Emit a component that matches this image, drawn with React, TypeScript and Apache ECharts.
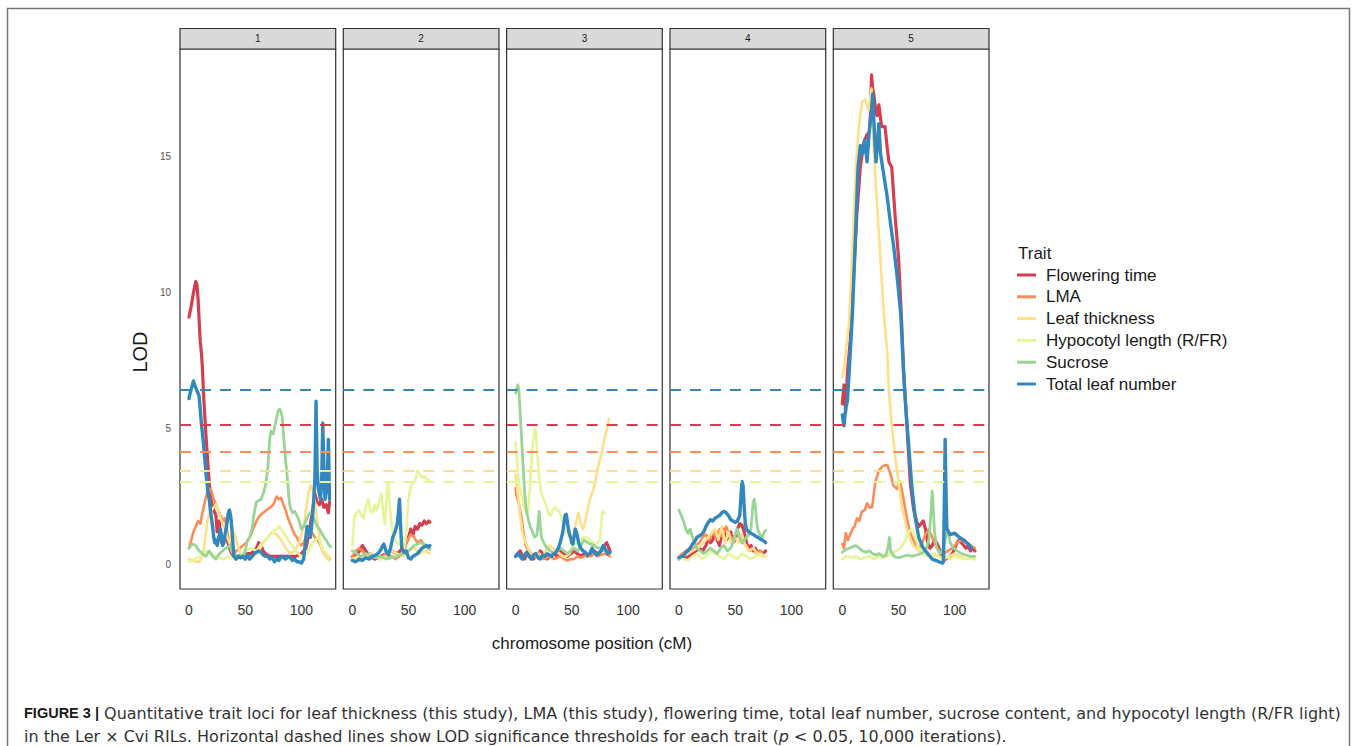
import React, { useEffect, useRef } from 'react';
import * as echarts from 'echarts';

const FONT = 'Liberation Sans, Arial, Helvetica, sans-serif';
const CAPTION_FONT = 'DejaVu Sans, Verdana, sans-serif';

const chromosomes = ['1', '2', '3', '4', '5'];
const traits = ['Flowering time', 'LMA', 'Leaf thickness', 'Hypocotyl length (R/FR)', 'Sucrose', 'Total leaf number'];
const traitColors = ['#D53E4F', '#FC8D59', '#FEE08B', '#E6F598', '#99D594', '#3288BD'];
const thresholds: (number | null)[] = [5.13, 4.14, 3.46, 3.06, null, 6.41];
const xTicks = [0, 50, 100];
const yTicks = [0, 5, 10, 15];

// [cM, LOD] per chromosome 1..5
const floweringTime: number[][][] = [
  [[0,9.1],[2,9.5],[4,10.0],[6,10.4],[7,10.3],[8,9.8],[9,9.0],[10,8.2],[11,7.8],[12,7.2],[13,6.2],[14,5.5],[15,4.8],[16,4.2],[17,3.6],[18,3.0],[19,2.6],[20,2.3],[22,2.0],[24,1.8],[25,1.2],[26,1.5],[27,1.6],[28,1.0],[29,0.8],[30,0.9],[32,1.0],[34,0.9],[36,0.6],[38,0.4],[40,0.3],[42,0.3],[45,0.3],[48,0.3],[50,0.3],[52,0.4],[55,0.4],[58,0.5],[60,0.6],[62,0.8],[64,0.7],[66,0.5],[68,0.4],[72,0.3],[76,0.3],[80,0.3],[85,0.3],[90,0.3],[95,0.3],[100,0.4],[104,0.6],[106,1.0],[108,1.5],[110,2.0],[112,2.6],[114,2.3],[116,2.2],[118,2.4],[120,2.1],[122,2.2],[124,1.9],[125,2.3]],
  [[0,0.3],[5,0.4],[9,0.7],[12,0.5],[16,0.3],[20,0.2],[25,0.3],[30,0.4],[35,0.5],[40,0.4],[45,0.6],[48,0.8],[50,1.0],[52,1.3],[54,1.1],[56,1.4],[58,1.3],[60,1.5],[62,1.45],[64,1.6],[66,1.5],[68,1.6],[69,1.55]],
  [[0,0.3],[2,0.4],[4,0.5],[6,0.3],[8,0.2],[10,0.4],[12,0.5],[14,0.3],[16,0.2],[18,0.4],[20,0.3],[22,0.5],[24,0.4],[26,0.3],[28,0.2],[31,0.3],[34,0.4],[37,0.3],[40,0.5],[43,0.4],[46,0.3],[49,0.4],[52,0.5],[55,0.4],[58,0.3],[61,0.4],[64,0.3],[67,0.4],[70,0.5],[73,0.4],[76,0.5],[79,0.7],[81,0.8],[83,0.6],[84,0.5]],
  [[0,0.2],[3,0.3],[6,0.25],[9,0.3],[12,0.4],[15,0.5],[18,0.6],[21,0.5],[24,0.7],[26,1.0],[28,0.8],[30,0.9],[32,1.2],[34,0.9],[36,0.7],[38,1.1],[40,1.3],[42,0.9],[44,1.0],[46,1.2],[48,0.8],[50,0.9],[52,1.3],[54,1.5],[56,1.45],[58,1.2],[60,0.8],[62,0.6],[64,0.7],[66,0.5],[68,0.6],[70,0.4],[72,0.5],[74,0.4],[76,0.45],[77,0.5]],
  [[0,5.9],[1.5,6.6],[3,5.6],[4.5,7.0],[7,8.2],[10,10.5],[13,12.9],[16,14.6],[19,15.5],[22,15.8],[24,15.9],[25,16.5],[26,18.0],[27,17.5],[28,17.3],[30,16.6],[31,16.5],[32.5,16.9],[35,16.1],[38,16.1],[40,15.3],[41.5,14.8],[44,14.6],[47,12.8],[50,11.3],[52.5,9.2],[54.5,7.1],[57.5,5.1],[60.5,3.0],[63.5,2.0],[66,1.6],[68,1.4],[70,1.5],[72,1.6],[74,1.3],[76,0.8],[78,0.6],[80,0.7],[82,0.9],[84,0.8],[86,0.6],[88,0.3],[90,0.2],[92,0.2],[94,0.25],[96,0.3],[98,0.4],[100,0.6],[102,0.8],[104,0.9],[106,0.8],[108,0.7],[110,0.6],[112,0.7],[114,0.5],[116,0.6],[118,0.5]],
];

const lma: number[][][] = [
  [[0,0.6],[2,0.9],[4,1.2],[6,1.4],[8,1.6],[10,1.5],[12,1.9],[14,2.3],[16,2.6],[18,2.8],[20,2.7],[22,2.4],[24,2.2],[26,2.0],[28,1.8],[30,1.6],[32,1.7],[34,1.2],[36,0.8],[38,0.5],[40,0.4],[42,0.5],[45,0.6],[48,0.7],[51,0.8],[54,1.0],[57,1.3],[60,1.6],[63,1.8],[66,1.9],[69,2.0],[72,2.1],[75,2.2],[78,2.5],[80,2.4],[82,2.45],[84,2.2],[86,2.0],[88,1.7],[90,1.5],[92,1.3],[94,1.1],[96,1.0],[98,0.8],[100,0.7],[102,0.8],[104,1.0],[106,1.1],[108,1.2],[110,1.15],[112,1.0],[114,0.9],[116,0.8],[118,0.6],[120,0.4],[122,0.3],[124,0.2],[125,0.2]],
  [[0,0.3],[3,0.5],[6,0.6],[9,0.5],[12,0.3],[16,0.4],[20,0.3],[25,0.2],[30,0.4],[35,0.3],[38,0.2],[42,0.3],[46,0.5],[49,0.9],[52,1.1],[55,1.0],[58,0.8],[61,0.9],[64,0.7],[67,0.6],[69,0.6]],
  [[0,2.8],[1,2.5],[3,2.2],[5,1.8],[7,1.2],[9,0.7],[11,0.5],[13,0.4],[16,0.3],[19,0.35],[22,0.3],[25,0.2],[28,0.25],[31,0.3],[34,0.2],[37,0.25],[40,0.3],[43,0.2],[46,0.15],[49,0.2],[52,0.2],[55,0.3],[58,0.25],[61,0.3],[64,0.35],[67,0.3],[70,0.4],[73,0.3],[76,0.35],[79,0.4],[82,0.35],[84,0.3]],
  [[0,0.3],[3,0.4],[6,0.5],[9,0.6],[12,0.5],[15,0.7],[18,0.8],[21,1.0],[24,1.1],[27,0.9],[30,1.2],[33,1.0],[36,1.3],[39,1.0],[42,1.4],[45,1.1],[48,0.9],[51,1.2],[54,1.0],[57,0.8],[60,0.7],[63,0.5],[66,0.6],[69,0.4],[72,0.5],[75,0.35],[77,0.3]],
  [[0,0.75],[1.5,0.6],[3,1.15],[5,0.9],[7,1.1],[9,1.3],[11,1.4],[13,1.7],[15,1.6],[17.5,1.95],[20,2.0],[22,2.25],[24,2.1],[26.5,2.1],[28,2.6],[29.5,3.05],[32.5,3.45],[35.5,3.6],[38,3.65],[40,3.66],[43,3.3],[45.5,2.9],[48.5,2.78],[51.5,3.05],[54.5,2.4],[57.5,1.7],[60.5,1.15],[65,0.75],[68,0.6],[71,0.8],[74,1.1],[77,1.3],[80,1.0],[83,0.7],[86,0.5],[90,0.4],[94,0.5],[98,0.6],[102,0.8],[106,0.9],[110,0.8],[113,0.75],[116,0.65],[118,0.6]],
];

const leafThickness: number[][][] = [
  [[0,0.2],[3,0.15],[6,0.1],[9,0.1],[12,0.3],[14,0.8],[16,1.5],[18,1.9],[20,2.0],[22,2.1],[24,2.2],[26,2.0],[28,1.7],[30,1.5],[32,1.3],[34,1.0],[36,0.8],[38,1.1],[40,1.2],[42,0.9],[44,0.6],[46,0.4],[48,0.3],[50,0.2],[54,0.2],[58,0.3],[62,0.5],[66,0.8],[70,1.0],[74,1.2],[78,1.1],[82,0.9],[86,0.6],[90,0.4],[94,0.5],[98,0.8],[102,1.4],[104,2.0],[106,2.6],[108,2.9],[110,2.7],[112,2.3],[114,1.6],[116,1.0],[118,0.6],[120,0.4],[122,0.3],[124,0.2],[125,0.15]],
  [[0,0.2],[5,0.3],[10,0.2],[15,0.4],[20,0.3],[25,0.2],[30,0.3],[35,0.5],[40,0.4],[45,0.3],[50,0.5],[55,0.6],[60,0.4],[65,0.5],[69,0.4]],
  [[0,3.3],[2,2.6],[4,1.8],[6,1.2],[8,0.9],[10,0.7],[12,0.5],[15,0.4],[18,0.3],[21,0.4],[24,0.3],[27,0.5],[30,0.7],[33,0.6],[36,0.5],[39,0.4],[42,0.3],[45,0.3],[48,0.4],[50,0.6],[52,1.2],[54,1.6],[56,1.9],[58,1.5],[60,1.3],[62,1.6],[64,2.0],[66,2.4],[68,2.6],[70,2.9],[72,3.3],[74,3.7],[76,4.0],[78,4.4],[80,4.8],[82,5.1],[83,5.35]],
  [[0,0.2],[4,0.3],[8,0.4],[12,0.5],[16,0.6],[20,0.7],[24,0.9],[28,1.1],[32,1.3],[35,0.9],[38,1.4],[41,0.8],[44,1.2],[47,0.7],[50,1.0],[53,0.8],[56,1.1],[59,0.7],[62,0.5],[66,0.6],[70,0.4],[74,0.3],[77,0.3]],
  [[0,6.9],[1.5,7.2],[3,7.8],[6,8.9],[9,11.6],[12,14.6],[15,16.2],[17.5,17.0],[20.5,17.1],[23.5,16.7],[26,17.5],[28,15.2],[31,13.2],[34,11.2],[37,9.2],[40,7.8],[41.5,6.4],[44,5.1],[47,4.0],[50,3.05],[53,2.1],[57.5,1.3],[62,0.75],[68,0.5],[74,0.35],[78,0.3],[82,0.4],[86,0.3],[90,0.2],[95,0.3],[100,0.4],[105,0.3],[110,0.2],[115,0.25],[118,0.2]],
];

const hypocotyl: number[][][] = [
  [[0,0.1],[5,0.2],[10,0.3],[15,0.5],[20,0.4],[25,0.3],[30,0.2],[35,0.3],[40,0.2],[45,0.3],[50,0.5],[55,0.6],[60,0.5],[65,0.8],[70,1.0],[75,1.2],[80,1.4],[85,1.1],[90,0.8],[95,0.5],[100,0.3],[105,0.4],[110,0.8],[115,1.0],[120,0.5],[125,0.3]],
  [[0,0.7],[2,1.8],[4,1.9],[6,2.0],[8,1.8],[10,1.7],[12,2.1],[14,2.4],[16,2.0],[18,1.9],[20,2.2],[22,2.0],[24,2.3],[26,2.6],[28,1.7],[29,1.5],[31,2.8],[32,3.0],[33,2.4],[35,1.4],[37,1.0],[40,0.8],[43,0.7],[46,0.6],[48,1.2],[50,2.4],[52,2.9],[54,3.0],[56,3.1],[58,3.45],[60,3.3],[62,3.2],[64,3.25],[66,3.15],[68,3.1],[69,3.05]],
  [[0,4.5],[1,3.9],[3,3.0],[5,2.6],[7,2.2],[9,1.9],[11,1.9],[13,3.0],[15,4.3],[17,5.0],[18,4.9],[19,4.3],[21,3.2],[23,2.6],[25,2.4],[27,2.2],[29,1.9],[31,1.8],[33,2.0],[35,2.1],[37,2.0],[39,1.95],[41,1.7],[43,1.4],[45,1.2],[48,1.0],[51,0.8],[54,0.75],[57,0.8],[60,1.0],[63,1.0],[66,0.9],[69,0.8],[72,0.75],[75,0.9],[76,1.4],[77,1.9],[78,1.95],[79,1.9]],
  [[0,0.3],[4,0.2],[8,0.15],[12,0.3],[16,0.4],[20,0.2],[24,0.3],[28,0.5],[32,0.4],[36,0.3],[40,0.2],[44,0.4],[48,0.3],[52,0.2],[56,0.4],[60,0.3],[64,0.2],[68,0.3],[72,0.4],[77,0.3]],
  [[0,0.2],[4,0.3],[8,0.25],[12,0.3],[16,0.2],[20,0.25],[24,0.3],[28,0.2],[32,0.3],[36,0.25],[40,0.3],[44,0.4],[48,0.5],[52,0.6],[56,0.9],[59,1.2],[62,1.3],[65,1.0],[68,0.6],[72,0.4],[76,0.3],[80,0.35],[84,0.3],[88,0.25],[92,0.3],[96,0.2],[100,0.3],[104,0.25],[108,0.2],[112,0.25],[116,0.2],[118,0.2]],
];

const sucrose: number[][][] = [
  [[0,0.6],[3,0.75],[6,0.7],[9,0.5],[12,0.4],[15,0.3],[18,0.5],[21,0.3],[24,0.2],[27,0.4],[30,0.5],[33,0.6],[36,0.7],[39,0.4],[42,0.3],[45,0.35],[48,0.3],[50,0.5],[52,0.9],[54,1.0],[56,1.3],[58,1.9],[60,2.3],[62,2.35],[64,2.4],[66,2.6],[68,2.9],[70,3.5],[71,4.1],[72,4.7],[73,4.9],[74,4.8],[75,4.8],[76,5.0],[77,5.2],[78,5.4],[79,5.6],[80,5.7],[81,5.7],[82,5.6],[83,5.4],[84,4.8],[85,4.3],[86,3.8],[87,3.4],[88,2.9],[89,2.4],[90,2.1],[92,1.9],[94,1.95],[96,1.8],[98,1.6],[100,1.3],[102,1.4],[104,1.6],[106,1.8],[108,1.9],[110,1.8],[112,1.6],[114,1.4],[116,1.3],[118,1.15],[120,1.0],[122,0.9],[124,0.75],[126,0.65]],
  [[0,0.5],[4,0.4],[8,0.3],[12,0.4],[16,0.35],[20,0.25],[25,0.3],[30,0.2],[35,0.25],[40,0.3],[45,0.4],[50,0.5],[55,0.7],[60,0.8],[64,0.75],[67,0.6],[69,0.55]],
  [[0,6.3],[2,6.6],[3,6.4],[4,5.6],[5,4.9],[6,4.1],[7,3.4],[8,2.7],[9,2.2],[10,1.9],[11,1.7],[13,1.4],[15,1.2],[17,1.0],[19,1.1],[20,1.5],[21,1.95],[22,1.4],[23,1.0],[25,0.8],[28,0.6],[31,0.5],[34,0.4],[37,0.5],[40,0.6],[43,0.5],[46,0.4],[49,0.5],[52,0.6],[55,0.5],[58,0.7],[61,0.9],[64,0.8],[67,0.75],[70,0.7],[73,0.6],[76,0.6],[79,0.5],[82,0.45],[84,0.4]],
  [[0,2.0],[2,1.8],[4,1.6],[6,1.3],[8,1.15],[10,1.3],[12,1.0],[14,0.8],[16,0.6],[19,0.5],[22,0.4],[25,0.5],[28,0.6],[31,0.5],[34,0.4],[37,0.6],[40,0.7],[43,0.5],[46,0.6],[48,0.8],[50,1.1],[52,1.3],[54,1.0],[56,0.8],[58,0.9],[60,1.0],[62,1.1],[64,1.3],[65,1.8],[66,2.3],[67,2.4],[68,2.1],[69,1.6],[70,1.3],[72,1.1],[74,1.0],[76,1.2],[77,1.25]],
  [[0,0.45],[3,0.55],[6,0.6],[9,0.65],[12,0.7],[15,0.6],[18,0.5],[21,0.45],[24,0.5],[27,0.4],[30,0.35],[33,0.4],[36,0.3],[39,0.35],[41,0.7],[42,1.0],[43,0.5],[46,0.3],[50,0.25],[54,0.3],[58,0.35],[62,0.3],[66,0.35],[70,0.4],[74,0.5],[77,0.9],[79,2.0],[80,2.7],[81,2.0],[82,1.2],[84,0.6],[87,0.4],[90,0.6],[92,1.0],[94,1.3],[96,0.8],[99,0.6],[102,0.5],[106,0.4],[110,0.35],[114,0.3],[118,0.3]],
];

const totalLeafNumber: number[][][] = [
  [[0,6.1],[1,6.3],[3,6.6],[4,6.75],[5,6.6],[7,6.4],[9,6.2],[10,5.7],[11,5.2],[12,4.8],[13,4.4],[14,3.9],[15,3.4],[16,3.0],[17,2.6],[18,2.4],[19,2.0],[20,1.7],[21,1.4],[22,1.0],[23,0.8],[24,0.9],[25,0.7],[26,0.9],[27,1.1],[28,1.3],[29,1.0],[30,0.7],[31,0.8],[32,1.1],[33,1.3],[34,1.6],[35,1.9],[36,2.0],[37,1.8],[38,1.4],[39,0.8],[40,0.3],[42,0.2],[44,0.3],[46,0.25],[48,0.3],[50,0.2],[52,0.35],[54,0.2],[56,0.3],[58,0.4],[60,0.45],[62,0.5],[64,0.45],[66,0.35],[68,0.3],[70,0.3],[72,0.2],[74,0.25],[76,0.1],[78,0.2],[80,0.15],[82,0.3],[84,0.25],[86,0.2],[88,0.3],[90,0.25],[92,0.15],[94,0.2],[96,0.1],[98,0.1],[100,0.05],[102,0.2],[104,1.0],[105,1.4],[107,1.2],[108,1.0],[110,1.8],[111,2.4],[112,3.2],[113,6.0],[114,3.5],[115,2.8],[116,2.6],[117,2.4],[118,3.0],[119,5.2],[120,3.5],[121,2.4],[122,2.7],[123,3.2],[124,4.6],[125,2.4]],
  [[0,0.15],[3,0.1],[6,0.2],[9,0.15],[12,0.25],[15,0.2],[18,0.3],[21,0.35],[24,0.45],[26,0.6],[28,0.75],[30,0.5],[32,0.35],[34,0.6],[36,1.0],[38,1.2],[40,1.5],[41,1.9],[42,2.4],[43,1.4],[44,0.6],[46,0.45],[48,0.5],[50,0.25],[52,0.2],[54,0.3],[56,0.35],[58,0.4],[60,0.5],[62,0.6],[64,0.65],[66,0.7],[68,0.65],[69,0.7]],
  [[0,0.3],[2,0.4],[4,0.3],[6,0.2],[8,0.35],[10,0.45],[12,0.3],[14,0.2],[16,0.35],[18,0.4],[20,0.25],[22,0.2],[24,0.35],[26,0.3],[28,0.4],[30,0.35],[32,0.3],[34,0.4],[36,0.45],[38,0.6],[40,0.85],[42,1.2],[43,1.5],[44,1.8],[45,1.85],[46,1.6],[47,1.3],[48,1.1],[49,1.0],[50,0.8],[51,0.75],[52,1.0],[53,1.3],[54,1.2],[55,1.05],[56,0.8],[58,0.6],[60,0.5],[62,0.45],[64,0.35],[66,0.4],[68,0.6],[70,0.45],[72,0.35],[74,0.4],[76,0.5],[78,0.7],[80,0.55],[82,0.4],[84,0.45]],
  [[0,0.25],[2,0.3],[4,0.3],[6,0.45],[8,0.5],[10,0.6],[12,0.75],[14,0.85],[16,1.0],[18,1.05],[20,1.1],[22,1.2],[24,1.4],[26,1.55],[28,1.65],[30,1.6],[32,1.7],[34,1.75],[36,1.8],[38,1.9],[40,1.95],[42,1.9],[44,1.8],[46,1.65],[48,1.6],[50,1.55],[52,1.6],[54,1.8],[55,2.4],[56,3.05],[57,2.9],[58,2.1],[59,1.5],[60,1.3],[62,1.2],[64,1.15],[66,1.1],[68,1.05],[70,1.0],[72,0.95],[74,0.9],[76,0.85],[77,0.8]],
  [[0,5.5],[1.5,5.1],[3,5.75],[4.5,6.0],[6,7.0],[9,9.2],[12,12.4],[14,14.6],[16,15.4],[18,15.1],[20,15.6],[22,14.8],[24,15.9],[26,16.7],[27,17.3],[29,15.5],[30,14.8],[32.5,16.2],[34,15.1],[37,14.3],[40,13.5],[43,12.5],[46,11.6],[49,10.5],[52,9.2],[54.5,7.1],[56.5,5.75],[59,4.4],[62,2.8],[65,1.7],[68,1.0],[72,0.6],[77,0.35],[80,0.2],[83,0.15],[86,0.1],[89,0.05],[90,0.1],[91,3.0],[91.5,4.6],[92,3.2],[93,1.3],[96,1.1],[100,1.15],[104,1.0],[108,0.9],[112,0.75],[115,0.6]],
];

const traitData = [floweringTime, lma, leafThickness, hypocotyl, sucrose, totalLeafNumber];
const lineWidths = [3.2, 2.6, 2.6, 2.6, 2.8, 3.4];

const PANEL_LEFT = [180, 343.3, 506.6, 670, 833.3];
const PANEL_W = 155.7;
const PANEL_TOP = 49;
const PANEL_H = 540;

export default function App() {
  const ref = useRef<HTMLDivElement>(null);

  useEffect(() => {
    const chart = echarts.init(ref.current!, null, { renderer: 'svg' });

    const grid = PANEL_LEFT.map((l) => ({
      left: l,
      top: PANEL_TOP,
      width: PANEL_W,
      height: PANEL_H,
      show: true,
      borderColor: '#333333',
      borderWidth: 1.2,
      backgroundColor: '#ffffff',
    }));

    const xAxis = chromosomes.map((_, i) => ({
      type: 'value',
      gridIndex: i,
      min: -8,
      max: 130.5,
      axisLine: { show: false },
      axisTick: { show: false },
      splitLine: { show: false },
      axisLabel: {
        customValues: xTicks,
        fontSize: 14,
        color: '#333333',
        margin: 14,
        fontFamily: FONT,
      },
    }));

    const yAxis = chromosomes.map((_, i) => ({
      type: 'value',
      gridIndex: i,
      min: -0.9,
      max: 18.95,
      axisLine: { show: false },
      axisTick: { show: false },
      splitLine: { show: false },
      axisLabel: {
        show: i === 0,
        customValues: yTicks,
        fontSize: 10,
        color: '#555555',
        margin: 9,
        fontFamily: FONT,
      },
    }));

    const series: any[] = [];
    traits.forEach((name, t) => {
      chromosomes.forEach((_, c) => {
        series.push({
          type: 'line',
          name,
          xAxisIndex: c,
          yAxisIndex: c,
          data: traitData[t][c],
          showSymbol: false,
          symbol: 'none',
          silent: true,
          itemStyle: { color: traitColors[t] },
          lineStyle: { color: traitColors[t], width: lineWidths[t], cap: 'round', join: 'round' },
          z: 2,
        });
      });
    });

    chromosomes.forEach((_, c) => {
      series.push({
        type: 'line',
        name: 'threshold-' + c,
        xAxisIndex: c,
        yAxisIndex: c,
        data: [],
        silent: true,
        z: 5,
        markLine: {
          symbol: 'none',
          silent: true,
          animation: false,
          label: { show: false },
          data: thresholds
            .map((v, t) =>
              v == null
                ? null
                : { yAxis: v, lineStyle: { color: traitColors[t], width: 1.9, type: [11, 9] } }
            )
            .filter((d) => d != null),
        },
      });
    });

    const graphic: any[] = [];
    graphic.push({
      type: 'rect',
      shape: { x: 7.5, y: 8.5, width: 1342, height: 760 },
      style: { fill: 'none', stroke: '#777777', lineWidth: 1.5 },
      silent: true,
    });
    chromosomes.forEach((c, i) => {
      graphic.push({
        type: 'rect',
        shape: { x: PANEL_LEFT[i], y: 28.5, width: PANEL_W, height: PANEL_TOP - 28.5 },
        style: { fill: '#d9d9d9', stroke: '#333333', lineWidth: 1.2 },
        silent: true,
      });
      graphic.push({
        type: 'text',
        x: PANEL_LEFT[i] + PANEL_W / 2,
        y: 38.5,
        style: {
          text: c,
          fontSize: 10,
          fill: '#1a1a1a',
          fontFamily: FONT,
          textAlign: 'center',
          textVerticalAlign: 'middle',
        },
        silent: true,
      });
    });
    graphic.push({
      type: 'text',
      x: 140,
      y: 352,
      rotation: Math.PI / 2,
      style: {
        text: 'LOD',
        fontSize: 20,
        fill: '#1a1a1a',
        fontFamily: FONT,
        textAlign: 'center',
        textVerticalAlign: 'middle',
      },
      silent: true,
    });
    graphic.push({
      type: 'text',
      x: 592,
      y: 643,
      style: {
        text: 'chromosome position (cM)',
        fontSize: 17,
        fill: '#1a1a1a',
        fontFamily: FONT,
        textAlign: 'center',
        textVerticalAlign: 'middle',
      },
      silent: true,
    });
    graphic.push({
      type: 'text',
      x: 1018,
      y: 253,
      style: {
        text: 'Trait',
        fontSize: 17,
        fill: '#1a1a1a',
        fontFamily: FONT,
        textAlign: 'left',
        textVerticalAlign: 'middle',
      },
      silent: true,
    });
    traits.forEach((name, t) => {
      const y = 275 + t * 21.8;
      graphic.push({
        type: 'line',
        shape: { x1: 1017, y1: y, x2: 1036, y2: y },
        style: { stroke: traitColors[t], lineWidth: 3 },
        silent: true,
      });
      graphic.push({
        type: 'text',
        x: 1046,
        y,
        style: {
          text: name,
          fontSize: 17,
          fill: '#1a1a1a',
          fontFamily: FONT,
          textAlign: 'left',
          textVerticalAlign: 'middle',
        },
        silent: true,
      });
    });
    const captionRich = {
      b: { fontWeight: 'bold', fontSize: 14.5, fill: '#1a1a1a', fontFamily: FONT },
      i: { fontStyle: 'italic', fontSize: 16, fill: '#333333', fontFamily: CAPTION_FONT },
    };
    graphic.push({
      type: 'text',
      x: 24,
      y: 713,
      style: {
        text: '{b|FIGURE 3 |} Quantitative trait loci for leaf thickness (this study), LMA (this study), flowering time, total leaf number, sucrose content, and hypocotyl length (R/FR light)',
        fontSize: 16,
        fill: '#333333',
        fontFamily: CAPTION_FONT,
        textAlign: 'left',
        textVerticalAlign: 'middle',
        rich: captionRich,
      },
      silent: true,
    });
    graphic.push({
      type: 'text',
      x: 24,
      y: 736,
      style: {
        text: 'in the Ler \u00d7 Cvi RILs. Horizontal dashed lines show LOD significance thresholds for each trait ({i|p} < 0.05, 10,000 iterations).',
        fontSize: 16,
        fill: '#333333',
        fontFamily: CAPTION_FONT,
        textAlign: 'left',
        textVerticalAlign: 'middle',
        rich: captionRich,
      },
      silent: true,
    });

    chart.setOption({
      animation: false,
      backgroundColor: '#ffffff',
      textStyle: { fontFamily: FONT },
      grid,
      xAxis,
      yAxis,
      series,
      graphic,
    });

    return () => chart.dispose();
  }, []);

  return (
    <div
      ref={ref}
      style={{ position: 'fixed', left: 0, top: 0, width: 1357, height: 746, background: '#fff' }}
    />
  );
}
